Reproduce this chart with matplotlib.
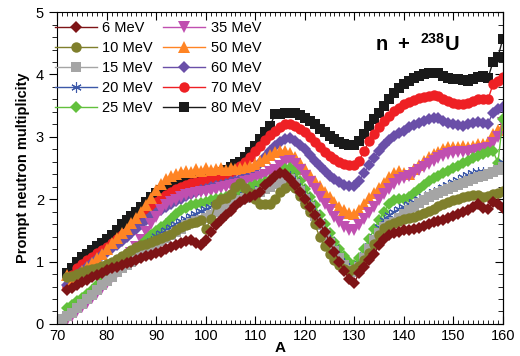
import matplotlib
matplotlib.use('Agg')
import matplotlib.pyplot as plt
import numpy as np
from matplotlib.ticker import MultipleLocator

plt.rcParams['font.family'] = ['Liberation Sans', 'DejaVu Sans']
plt.rcParams['mathtext.fontset'] = 'custom'
plt.rcParams['mathtext.rm'] = 'Liberation Sans'
plt.rcParams['mathtext.bf'] = 'Liberation Sans:bold'

# mass number A, two start points
A71 = np.arange(71, 161)
A72 = np.arange(72, 161)

e6 = [0.55, 0.58, 0.63, 0.67, 0.71, 0.75, 0.79, 0.82, 0.86, 0.89,
      0.92, 0.95, 0.98, 1.00, 1.03, 1.06, 1.09, 1.11, 1.14, 1.16,
      1.20, 1.23, 1.27, 1.30, 1.33, 1.35, 1.30, 1.26, 1.35, 1.47,
      1.58, 1.67, 1.74, 1.81, 1.89, 1.96, 2.00, 2.03, 2.06, 2.12,
      2.22, 2.30, 2.37, 2.42, 2.40, 2.32, 2.22, 2.12, 2.00, 1.88,
      1.75, 1.62, 1.48, 1.32, 1.16, 1.00, 0.85, 0.72, 0.66, 0.82,
      0.92, 1.02, 1.12, 1.26, 1.36, 1.43, 1.46, 1.48, 1.50, 1.51,
      1.52, 1.54, 1.57, 1.60, 1.63, 1.65, 1.67, 1.70, 1.73, 1.76,
      1.79, 1.83, 1.88, 1.93, 1.86, 1.84, 1.96, 1.93, 1.86]
e10 = [0.75, 0.77, 0.80, 0.83, 0.86, 0.88, 0.90, 0.93, 0.96, 1.00,
       1.04, 1.09, 1.14, 1.19, 1.23, 1.26, 1.28, 1.31, 1.35, 1.38,
       1.41, 1.45, 1.50, 1.55, 1.59, 1.62, 1.64, 1.66, 1.52, 1.68,
       1.92, 2.00, 2.02, 2.08, 2.20, 2.26, 2.18, 2.10, 2.00, 1.93,
       1.93, 1.92, 2.00, 2.12, 2.18, 2.22, 2.18, 2.05, 1.92, 1.80,
       1.60, 1.40, 1.25, 1.12, 1.02, 0.95, 0.88, 0.85, 0.88, 0.93,
       1.03, 1.13, 1.28, 1.43, 1.54, 1.59, 1.62, 1.65, 1.68, 1.70,
       1.72, 1.75, 1.78, 1.81, 1.85, 1.89, 1.92, 1.95, 1.98, 2.00,
       2.03, 2.05, 2.07, 2.06, 2.04, 2.05, 2.08, 2.10, 2.13]
e15 = [0.08, 0.12, 0.18, 0.25, 0.32, 0.40, 0.47, 0.55, 0.62, 0.69,
       0.76, 0.83, 0.89, 0.95, 1.00, 1.05, 1.10, 1.16, 1.22, 1.28,
       1.33, 1.38, 1.43, 1.48, 1.53, 1.58, 1.62, 1.65, 1.66, 1.70,
       1.75, 1.80, 1.84, 1.88, 1.92, 1.95, 1.98, 2.02, 2.05, 2.09,
       2.12, 2.16, 2.20, 2.24, 2.28, 2.31, 2.32, 2.25, 2.13, 2.00,
       1.87, 1.73, 1.58, 1.44, 1.30, 1.17, 1.05, 0.95, 0.87, 0.83,
       0.92, 1.05, 1.20, 1.34, 1.46, 1.55, 1.60, 1.64, 1.70, 1.76,
       1.82, 1.88, 1.94, 1.99, 2.03, 2.07, 2.10, 2.13, 2.17, 2.20,
       2.23, 2.26, 2.30, 2.33, 2.36, 2.38, 2.40, 2.43, 2.47, 2.52]
e20 = [0.10, 0.14, 0.20, 0.28, 0.35, 0.42, 0.50, 0.58, 0.65, 0.72,
       0.80, 0.88, 0.94, 1.00, 1.05, 1.10, 1.17, 1.25, 1.33, 1.41,
       1.46, 1.51, 1.56, 1.61, 1.65, 1.69, 1.73, 1.77, 1.81, 1.84,
       1.87, 1.90, 1.92, 1.94, 1.97, 2.00, 2.03, 2.07, 2.10, 2.13,
       2.16, 2.20, 2.24, 2.28, 2.32, 2.36, 2.37, 2.30, 2.18, 2.05,
       1.92, 1.78, 1.63, 1.48, 1.34, 1.21, 1.09, 0.98, 0.90, 0.86,
       0.96, 1.10, 1.25, 1.40, 1.55, 1.66, 1.74, 1.80, 1.84, 1.88,
       1.92, 1.96, 2.00, 2.04, 2.08, 2.12, 2.15, 2.19, 2.23, 2.27,
       2.31, 2.35, 2.39, 2.42, 2.44, 2.43, 2.44, 2.46, 2.50, 2.60]
e25 = [0.03, 0.25, 0.30, 0.37, 0.42, 0.48, 0.55, 0.62, 0.69, 0.76,
       0.83, 0.90, 0.97, 1.04, 1.11, 1.18, 1.26, 1.34, 1.42, 1.49,
       1.55, 1.60, 1.68, 1.76, 1.82, 1.86, 1.90, 1.92, 1.94, 1.96,
       1.98, 2.00, 2.02, 2.04, 2.06, 2.09, 2.12, 2.15, 2.19, 2.22,
       2.25, 2.28, 2.31, 2.35, 2.41, 2.48, 2.50, 2.42, 2.30, 2.17,
       2.04, 1.90, 1.75, 1.60, 1.46, 1.32, 1.20, 1.09, 1.00, 0.95,
       1.05, 1.20, 1.36, 1.52, 1.66, 1.80, 1.92, 1.98, 2.00, 2.00,
       2.03, 2.10, 2.17, 2.23, 2.29, 2.34, 2.38, 2.42, 2.46, 2.50,
       2.53, 2.58, 2.62, 2.66, 2.70, 2.73, 2.76, 2.78, 2.58, 3.28]
e35 = [0.02, 0.06, 0.13, 0.20, 0.27, 0.33, 0.41, 0.49, 0.57, 0.66,
       0.75, 0.84, 0.93, 1.03, 1.13, 1.23, 1.35, 1.47, 1.60, 1.72,
       1.82, 1.90, 1.95, 1.99, 2.03, 2.06, 2.08, 2.10, 2.11, 2.12,
       2.13, 2.15, 2.18, 2.20, 2.21, 2.23, 2.25, 2.27, 2.30, 2.33,
       2.36, 2.39, 2.43, 2.47, 2.53, 2.59, 2.62, 2.56, 2.47, 2.38,
       2.27, 2.16, 2.04, 1.93, 1.82, 1.72, 1.63, 1.56, 1.51, 1.50,
       1.58, 1.68, 1.78, 1.88, 1.98, 2.08, 2.17, 2.25, 2.31, 2.34,
       2.37, 2.42, 2.47, 2.52, 2.57, 2.62, 2.66, 2.70, 2.73, 2.74,
       2.75, 2.76, 2.76, 2.77, 2.79, 2.80, 2.82, 2.90, 3.00, 3.22]
e50 = [0.78, 0.68, 0.76, 0.85, 0.92, 0.98, 1.05, 1.12, 1.20, 1.30,
       1.38, 1.46, 1.53, 1.62, 1.70, 1.80, 1.90, 2.02, 2.15, 2.25,
       2.33, 2.38, 2.40, 2.44, 2.46, 2.44, 2.48, 2.46, 2.50, 2.47,
       2.49, 2.50, 2.47, 2.50, 2.49, 2.50, 2.51, 2.53, 2.56, 2.61,
       2.66, 2.71, 2.75, 2.78, 2.78, 2.74, 2.67, 2.58, 2.48, 2.39,
       2.30, 2.21, 2.12, 2.03, 1.95, 1.88, 1.82, 1.78, 1.77, 1.83,
       1.93, 2.02, 2.10, 2.18, 2.26, 2.35, 2.42, 2.45, 2.42, 2.41,
       2.48, 2.55, 2.62, 2.67, 2.72, 2.76, 2.80, 2.83, 2.84, 2.83,
       2.85, 2.84, 2.86, 2.88, 2.88, 2.92, 3.05, 3.11, 3.18]
e60 = [0.62, 0.70, 0.78, 0.85, 0.92, 0.98, 1.04, 1.10, 1.16, 1.21,
       1.27, 1.33, 1.39, 1.46, 1.53, 1.60, 1.67, 1.73, 1.78, 1.83,
       1.88, 1.93, 1.97, 2.01, 2.05, 2.08, 2.11, 2.14, 2.17, 2.19,
       2.21, 2.23, 2.25, 2.27, 2.30, 2.33, 2.37, 2.42, 2.48, 2.58,
       2.68, 2.77, 2.85, 2.92, 2.96, 2.98, 2.94, 2.87, 2.80, 2.71,
       2.62, 2.53, 2.45, 2.38, 2.32, 2.27, 2.23, 2.21, 2.21, 2.30,
       2.42, 2.55, 2.66, 2.77, 2.87, 2.95, 3.01, 3.06, 3.10, 3.15,
       3.19, 3.23, 3.26, 3.28, 3.31, 3.30, 3.26, 3.22, 3.20, 3.19,
       3.18, 3.20, 3.23, 3.24, 3.22, 3.21, 3.39, 3.44, 3.48]
e70 = [0.60, 0.78, 0.90, 0.96, 1.02, 1.08, 1.14, 1.19, 1.24, 1.30,
       1.36, 1.42, 1.47, 1.52, 1.58, 1.66, 1.76, 1.86, 1.96, 2.02,
       2.07, 2.12, 2.16, 2.20, 2.23, 2.26, 2.28, 2.30, 2.31, 2.33,
       2.35, 2.37, 2.39, 2.42, 2.47, 2.53, 2.60, 2.68, 2.77, 2.86,
       2.95, 3.03, 3.10, 3.16, 3.20, 3.21, 3.18, 3.13, 3.07, 3.00,
       2.92, 2.84, 2.76, 2.70, 2.64, 2.60, 2.57, 2.55, 2.55, 2.62,
       2.78, 2.93, 3.05, 3.16, 3.25, 3.33, 3.41, 3.47, 3.52, 3.56,
       3.59, 3.62, 3.64, 3.66, 3.67, 3.65, 3.61, 3.58, 3.55, 3.53,
       3.52, 3.54, 3.58, 3.60, 3.60, 3.60, 3.84, 3.90, 3.96]
e80 = [0.82, 0.90, 1.00, 1.07, 1.12, 1.18, 1.25, 1.30, 1.36, 1.42,
       1.50, 1.60, 1.67, 1.73, 1.80, 1.88, 1.95, 2.03, 2.10, 2.14,
       2.17, 2.20, 2.22, 2.25, 2.27, 2.30, 2.32, 2.34, 2.36, 2.38,
       2.40, 2.43, 2.47, 2.52, 2.56, 2.60, 2.68, 2.76, 2.86, 2.97,
       3.08, 3.18, 3.36, 3.37, 3.38, 3.39, 3.38, 3.35, 3.30, 3.26,
       3.20, 3.13, 3.07, 3.02, 2.96, 2.92, 2.89, 2.87, 2.87, 2.93,
       3.05, 3.18, 3.28, 3.38, 3.50, 3.60, 3.70, 3.78, 3.84, 3.90,
       3.94, 3.97, 4.00, 4.02, 4.03, 4.02, 3.98, 3.95, 3.93, 3.93,
       3.91, 3.90, 3.93, 3.96, 3.97, 3.94, 4.20, 4.28, 4.57]

series = [
    ('6 MeV', A72, e6, '#7e1416', 'D', 6.3),
    ('10 MeV', A72, e10, '#7f7f2c', 'o', 7.5),
    ('15 MeV', A71, e15, '#a5a5a5', 's', 7),
    ('20 MeV', A71, e20, '#3c58a8', (6, 2, 0), 7.5),
    ('25 MeV', A71, e25, '#62c03c', 'D', 6.3),
    ('35 MeV', A71, e35, '#c04fb0', 'v', 8.2),
    ('50 MeV', A72, e50, '#ff8424', '^', 8.2),
    ('60 MeV', A72, e60, '#6a4fa8', 'D', 6.3),
    ('70 MeV', A72, e70, '#ee2024', 'o', 7.5),
    ('80 MeV', A72, e80, '#1a1a1a', 's', 7),
]

fig = plt.figure(figsize=(5.2, 3.56), dpi=100)
ax = fig.add_axes([0.11, 0.09, 0.857, 0.876])

handles = {}
for label, x, y, c, m, ms in reversed(series):
    h, = ax.plot(x, y, color=c, marker=m, markersize=ms, lw=1,
                 markeredgewidth=0.8 if m == (6, 2, 0) else 0,
                 markeredgecolor=c, label=label)
    handles[label] = h

ax.set_xlim(70, 160)
ax.set_ylim(0, 5)
ax.xaxis.set_major_locator(MultipleLocator(10))
ax.xaxis.set_minor_locator(MultipleLocator(1))
ax.yaxis.set_major_locator(MultipleLocator(1))
ax.yaxis.set_minor_locator(MultipleLocator(0.2))
ax.tick_params(axis='x', which='both', direction='in', top=True, labelsize=10.5)
ax.tick_params(axis='x', which='major', length=6)
ax.tick_params(axis='x', which='minor', length=3)
ax.tick_params(axis='y', which='both', direction='out', labelsize=10.5)
ax.tick_params(axis='y', which='major', length=6)
ax.tick_params(axis='y', which='minor', length=3.5)
sec = ax.secondary_yaxis('right')
sec.yaxis.set_major_locator(MultipleLocator(1))
sec.yaxis.set_minor_locator(MultipleLocator(0.2))
sec.tick_params(which='both', direction='in', labelright=False)
sec.tick_params(which='major', length=6)
sec.tick_params(which='minor', length=3.5)

ax.set_xlabel('A', fontsize=11, fontweight='bold', labelpad=-1)
ax.set_ylabel('Prompt neutron multiplicity', fontsize=10.5, fontweight='bold', labelpad=4)

ax.legend([handles[s[0]] for s in series], [s[0] for s in series],
          ncol=2, loc='upper left', bbox_to_anchor=(-0.005, 0.97),
          frameon=False, fontsize=10.5, numpoints=1, handlelength=2.9,
          handletextpad=0.35, columnspacing=0.7, labelspacing=0.4,
          borderpad=0, borderaxespad=0)

ax.text(0.713, 0.875, r'$\mathbf{n\ +\ ^{238}U}$', transform=ax.transAxes,
        fontsize=14.5, ha='left', va='baseline')

fig.savefig('out.png', dpi=100)
